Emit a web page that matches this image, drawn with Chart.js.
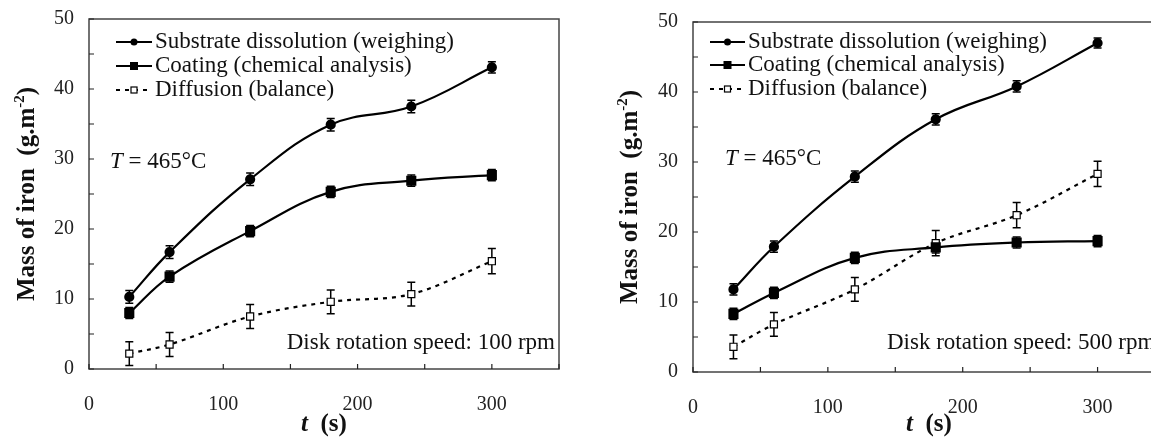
<!DOCTYPE html>
<html>
<head>
<meta charset="utf-8">
<script src="https://cdn.jsdelivr.net/npm/chart.js@4/dist/chart.umd.min.js"></script>
<style>
  html, body { margin: 0; padding: 0; background: #fff; overflow: hidden; width: 1151px; height: 437px; }
  .box { position: absolute; top: 0; height: 437px; }
  #left { left: 0; width: 580px; }
  #right { left: 600px; width: 600px; }
</style>
</head>
<body>
<div class="box" id="left"><canvas id="c1"></canvas></div>
<div class="box" id="right"><canvas id="c2"></canvas></div>
<script>
const times = [30, 60, 120, 180, 240, 300];
const legendNames = ["Substrate dissolution (weighing)", "Coating (chemical analysis)", "Diffusion (balance)"];

// 100 rpm
const subst100 = [10.3, 16.7, 27.1, 34.9, 37.5, 43.1];
const coat100 = [8.0, 13.2, 19.7, 25.3, 26.9, 27.7];
const diff100 = [2.2, 3.5, 7.5, 9.6, 10.7, 15.4];
const substErr100 = [0.9, 0.9, 0.9, 0.9, 0.9, 0.8];
const coatErr100 = [0.8, 0.8, 0.8, 0.8, 0.8, 0.8];
const diffErr100 = [1.7, 1.7, 1.7, 1.7, 1.7, 1.8];

// 500 rpm
const subst500 = [11.8, 17.9, 27.9, 36.1, 40.8, 47.0];
const coat500 = [8.3, 11.3, 16.3, 17.8, 18.5, 18.7];
const diff500 = [3.6, 6.8, 11.8, 18.4, 22.4, 28.3];
const substErr500 = [0.8, 0.8, 0.8, 0.8, 0.8, 0.7];
const coatErr500 = [0.8, 0.8, 0.8, 0.8, 0.8, 0.8];
const diffErr500 = [1.7, 1.7, 1.7, 1.8, 1.8, 1.8];

const SERIF = "'Liberation Serif', 'DejaVu Serif', serif";

const pts = (vals) => vals.map((v, i) => ({ x: times[i], y: v }));

function makeDatasets(s, c, d, se, ce, de) {
  return [
    { label: legendNames[0], data: pts(s), err: se, borderColor: "#000", borderWidth: 2.2,
      pointStyle: "circle", pointRadius: 4, pointBackgroundColor: "#000", pointBorderColor: "#000", tension: 0.4 },
    { label: legendNames[1], data: pts(c), err: ce, borderColor: "#000", borderWidth: 2.2,
      pointStyle: "rect", pointRadius: 5.6, pointBackgroundColor: "#000", pointBorderColor: "#000", tension: 0.4 },
    { label: legendNames[2], data: pts(d), err: de, borderColor: "#000", borderWidth: 2.2, borderDash: [4, 5],
      pointStyle: "rect", pointRadius: 5, pointBackgroundColor: "#fff", pointBorderColor: "#000", pointBorderWidth: 1.2, tension: 0.35 }
  ];
}

function drawMarker(ctx, ds, px, py) {
  ctx.save();
  ctx.setLineDash([]);
  ctx.fillStyle = ds.pointBackgroundColor;
  ctx.strokeStyle = ds.pointBorderColor;
  ctx.lineWidth = ds.pointBorderWidth || 1;
  if (ds.pointStyle === "circle") {
    ctx.beginPath(); ctx.arc(px, py, 3.5, 0, Math.PI * 2); ctx.fill();
  } else {
    const h = ds.pointBackgroundColor === "#fff" ? 3 : 3.5;
    ctx.fillRect(px - h, py - h, 2 * h, 2 * h);
    ctx.strokeRect(px - h, py - h, 2 * h, 2 * h);
  }
  ctx.restore();
}

const decor = {
  id: "decor",
  beforeDatasetsDraw(chart, args, o) {
    const { ctx, chartArea: a, scales: { x, y } } = chart;
    ctx.save();
    ctx.strokeStyle = "#444";
    ctx.lineWidth = 1.5;
    ctx.strokeRect(a.left, a.top, a.right - a.left, a.bottom - a.top);
    // inward tick marks
    ctx.strokeStyle = "#222";
    ctx.lineWidth = 1.2;
    ctx.beginPath();
    y.ticks.forEach(t => {
      const py = y.getPixelForValue(t.value);
      ctx.moveTo(a.left, py); ctx.lineTo(a.left + 5, py);
    });
    x.ticks.forEach(t => {
      const px = x.getPixelForValue(t.value);
      ctx.moveTo(px, a.bottom); ctx.lineTo(px, a.bottom - 5);
    });
    ctx.stroke();
    // error bars
    ctx.strokeStyle = "#000";
    ctx.lineWidth = 1.5;
    chart.data.datasets.forEach(ds => {
      ds.data.forEach((p, i) => {
        const px = x.getPixelForValue(p.x);
        const y1 = y.getPixelForValue(p.y - ds.err[i]);
        const y2 = y.getPixelForValue(p.y + ds.err[i]);
        ctx.beginPath();
        ctx.moveTo(px, y1); ctx.lineTo(px, y2);
        ctx.moveTo(px - 4, y1); ctx.lineTo(px + 4, y1);
        ctx.moveTo(px - 4, y2); ctx.lineTo(px + 4, y2);
        ctx.stroke();
      });
    });
    ctx.restore();
  },
  afterDraw(chart, args, o) {
    const { ctx, chartArea: a } = chart;
    ctx.save();
    ctx.fillStyle = "#111";
    ctx.textBaseline = "middle";
    // legend
    ctx.font = "23px " + SERIF;
    chart.data.datasets.forEach((ds, i) => {
      const ly = o.legendY[i];
      ctx.save();
      ctx.strokeStyle = "#000";
      ctx.lineWidth = 2.2;
      ctx.setLineDash(ds.borderDash || []);
      ctx.beginPath();
      ctx.moveTo(o.legendX0, ly); ctx.lineTo(o.legendX1, ly);
      ctx.stroke();
      ctx.restore();
      drawMarker(ctx, ds, (o.legendX0 + o.legendX1) / 2, ly);
      ctx.textAlign = "left";
      ctx.fillText(ds.label, o.legendX1 + 3, ly);
    });
    // temperature
    ctx.font = "italic 23px " + SERIF;
    ctx.fillText("T", o.tempX, o.tempY);
    const tw = ctx.measureText("T").width;
    ctx.font = "23px " + SERIF;
    ctx.fillText(" = 465°C", o.tempX + tw, o.tempY);
    // rotation speed
    ctx.textAlign = o.speedAlign;
    ctx.fillText(o.speedText, o.speedX, o.speedY);
    ctx.textAlign = "left";
    // x title
    ctx.font = "bold italic 25px " + SERIF;
    const w1 = ctx.measureText("t").width;
    ctx.font = "bold 25px " + SERIF;
    const w2 = ctx.measureText("  (s)").width;
    const cx = (a.left + a.right) / 2;
    let sx = cx - (w1 + w2) / 2;
    ctx.font = "bold italic 25px " + SERIF;
    ctx.fillText("t", sx, o.xTitleY);
    ctx.font = "bold 25px " + SERIF;
    ctx.fillText("  (s)", sx + w1, o.xTitleY);
    // y title
    ctx.translate(o.yTitleX, (a.top + a.bottom) / 2);
    ctx.rotate(-Math.PI / 2);
    const main = "Mass of iron  (g.m";
    ctx.font = "bold 25px " + SERIF;
    const m1 = ctx.measureText(main).width;
    const m3 = ctx.measureText(")").width;
    ctx.font = "bold 15px " + SERIF;
    const m2 = ctx.measureText("-2").width;
    let tx = -(m1 + m2 + m3) / 2;
    ctx.font = "bold 25px " + SERIF;
    ctx.fillText(main, tx, 0);
    ctx.font = "bold 15px " + SERIF;
    ctx.fillText("-2", tx + m1, -8);
    ctx.font = "bold 25px " + SERIF;
    ctx.fillText(")", tx + m1 + m2, 0);
    ctx.restore();
  }
};

function makeChart(id, datasets, cfg) {
  return new Chart(document.getElementById(id), {
    type: "line",
    data: { datasets },
    plugins: [decor],
    options: {
      responsive: true,
      maintainAspectRatio: false,
      animation: false,
      layout: { padding: { top: cfg.top, right: cfg.right, left: 0, bottom: 0 } },
      plugins: {
        legend: { display: false },
        tooltip: { enabled: false },
        decor: cfg.decor
      },
      scales: {
        x: {
          type: "linear", min: 0, max: 350,
          grid: { display: false }, border: { display: false },
          ticks: {
            stepSize: 50, padding: 16, color: "#222",
            font: { family: SERIF, size: 20 },
            callback: v => (v % 100 === 0 && v <= 300 ? v : "")
          },
          afterFit: s => { s.height = cfg.xHeight; }
        },
        y: {
          min: 0, max: 50,
          grid: { display: false }, border: { display: false },
          ticks: {
            stepSize: 5, padding: 7, color: "#222",
            font: { family: SERIF, size: 20 },
            callback: v => (v % 10 === 0 ? v : "")
          },
          afterFit: s => { s.width = cfg.yWidth; }
        }
      }
    }
  });
}

makeChart("c1", makeDatasets(subst100, coat100, diff100, substErr100, coatErr100, diffErr100), {
  top: 19, right: 21, xHeight: 68, yWidth: 89,
  decor: { legendX0: 116, legendX1: 152, legendY: [42, 66, 90], tempX: 110, tempY: 162,
           speedText: "Disk rotation speed: 100 rpm", speedAlign: "right", speedX: 555, speedY: 343,
           xTitleY: 425, yTitleX: 28 }
});

makeChart("c2", makeDatasets(subst500, coat500, diff500, substErr500, coatErr500, diffErr500), {
  top: 22, right: 35, xHeight: 65, yWidth: 93,
  decor: { legendX0: 110, legendX1: 145, legendY: [42, 65, 89], tempX: 125, tempY: 159,
           speedText: "Disk rotation speed: 500 rpm", speedAlign: "left", speedX: 287, speedY: 343,
           xTitleY: 425, yTitleX: 31 }
});
</script>
</body>
</html>
